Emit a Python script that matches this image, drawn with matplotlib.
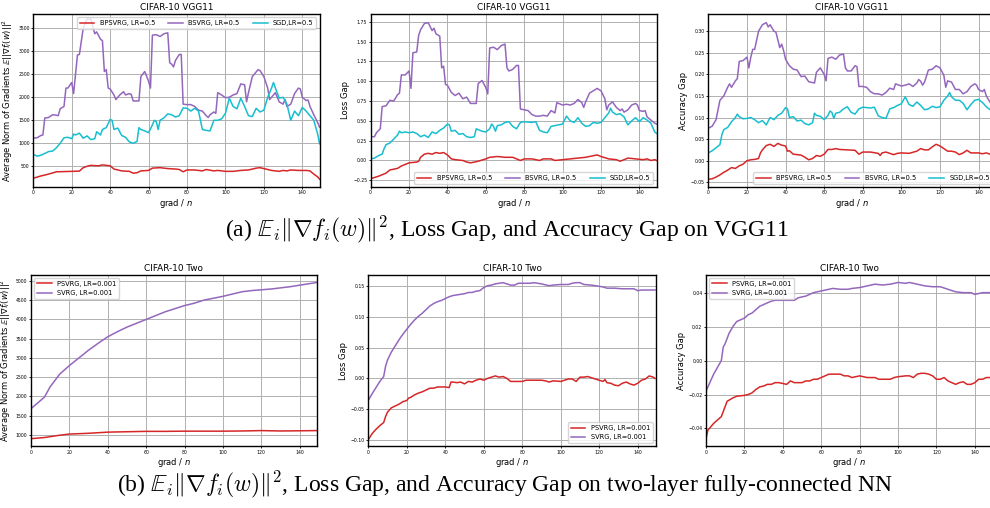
import matplotlib
matplotlib.use("Agg")
import matplotlib.pyplot as plt

RED = '#d62728'
PURPLE = '#9467bd'
CYAN = '#17becf'

# ---- (a) CIFAR-10 VGG11 ----
# gradient norm
vgg_bsvrg_gn_x = [0, 2, 4, 5, 6, 8, 10, 12, 13, 14, 16, 17, 18, 20, 21, 22, 23, 24, 26, 28,
                  30, 32, 33, 35, 36, 37, 38, 39, 40, 42, 43, 45, 47, 48, 50, 51, 52, 54, 55, 56,
                  58, 60, 61, 62, 64, 66, 68, 70, 71, 72, 73, 74, 76, 77, 78, 80, 82, 84, 86, 88,
                  90, 91, 92, 94, 95, 96, 98, 100, 102, 104, 106, 108, 110, 111, 112, 114, 115, 116, 117, 118,
                  120, 122, 123, 124, 126, 128, 130, 131, 132, 134, 136, 138, 139, 140, 142, 143, 144, 146, 148, 149]
vgg_bsvrg_gn = [1110, 1120, 1170, 1180, 1550, 1560, 1620, 1610, 1600, 1750, 1800, 2200, 2200, 2320, 2080, 2500, 2920, 2930, 3500, 3700,
                3700, 3380, 3420, 3260, 3230, 2560, 2600, 2200, 2180, 2050, 1950, 2050, 2120, 2050, 2080, 2060, 1920, 1920, 1920, 2450,
                2560, 2350, 2200, 3350, 3360, 3320, 3380, 3400, 2750, 2720, 2660, 2800, 2930, 2930, 1850, 1840, 1840, 1800, 1720, 1700,
                1600, 1560, 1620, 1680, 1650, 2100, 2050, 1990, 2000, 2050, 2080, 2290, 2270, 1900, 2100, 2450, 2500, 2550, 2600, 2580,
                2450, 2200, 1950, 2000, 2100, 1900, 1850, 1950, 1800, 1850, 2080, 2200, 2180, 2000, 1930, 1940, 1800, 1620, 1450, 1350]

vgg_sgd_gn_x = [0, 2, 4, 6, 8, 10, 12, 14, 16, 18, 20, 21, 22, 24, 26, 28, 30, 32, 33, 35, 36, 38, 40, 41, 42, 44,
                46, 48, 50, 52, 54, 55, 56, 58, 60, 62, 63, 64, 65, 66, 68, 70, 72, 74, 76, 78, 80, 82, 84, 86, 88,
                90, 92, 94, 96, 98, 100, 102, 104, 106, 108, 110, 112, 114, 116, 118, 120, 122, 124, 125, 126,
                128, 130, 132, 134, 136, 138, 140, 142, 144, 146, 148, 149]
vgg_sgd_gn = [760, 720, 740, 780, 820, 830, 900, 1000, 1120, 1130, 1100, 1200, 1180, 1220, 1110, 1160, 1080, 1100, 1250, 1180, 1300, 1340, 1520, 1500, 1300, 1330,
              1170, 1130, 1030, 1000, 1040, 1340, 1300, 1270, 1230, 1400, 1500, 1470, 1300, 1500, 1550, 1640, 1620, 1570, 1600, 1770, 1760, 1700, 1760, 1700, 1300,
              1280, 1270, 1500, 1500, 1530, 1650, 1980, 1800, 1750, 1980, 1800, 1600, 1580, 1760, 1680, 1720, 2000, 2200, 2320, 2200,
              1980, 2000, 1850, 1500, 1700, 1600, 1780, 1700, 1600, 1500, 1200, 990]

vgg_bpsvrg_gn_x = [0, 4, 8, 12, 16, 20, 24, 26, 28, 30, 34, 36, 38, 40, 42, 46, 50, 52, 54, 56, 60, 62, 66, 70, 74,
                   76, 78, 80, 84, 88, 90, 94, 96, 100, 104, 108, 112, 116, 118, 120, 124, 128, 130, 132, 134,
                   138, 142, 144, 146, 148, 149]
vgg_bpsvrg_gn = [240, 290, 330, 380, 385, 390, 395, 470, 500, 520, 510, 530, 520, 510, 440, 400, 390, 350, 360, 400, 410, 460, 470, 450, 440,
                 430, 380, 420, 420, 400, 430, 400, 410, 390, 390, 410, 420, 460, 470, 450, 410, 390, 410, 400, 420,
                 410, 410, 400, 330, 270, 220]

# loss gap
vgg_bsvrg_loss_x = [0, 2, 3, 5, 6, 8, 10, 12, 14, 15, 16, 18, 20, 21, 22, 24, 25, 26, 28, 30,
                    32, 33, 34, 36, 37, 38, 39, 40, 42, 44, 46, 48, 50, 52, 55, 56, 58, 60, 61, 62,
                    64, 66, 68, 70, 71, 72, 74, 76, 77, 78, 80, 82, 84, 86, 88, 90, 92, 94, 96, 97,
                    100, 102, 104, 106, 108, 110, 111, 112, 114, 116, 118, 120, 122, 123, 124, 126, 128, 130, 131, 132,
                    134, 136, 138, 139, 140, 142, 143, 144, 146, 148, 149]
vgg_bsvrg_loss = [0.30, 0.30, 0.35, 0.40, 0.68, 0.69, 0.76, 0.75, 0.83, 0.85, 1.08, 1.08, 1.13, 0.91, 1.36, 1.37, 1.58, 1.65, 1.73, 1.74,
                  1.64, 1.67, 1.60, 1.57, 1.17, 1.19, 0.96, 0.95, 0.86, 0.82, 0.85, 0.78, 0.80, 0.72, 0.72, 0.97, 1.01, 0.92, 0.84, 1.42,
                  1.43, 1.40, 1.45, 1.47, 1.17, 1.13, 1.15, 1.20, 1.20, 0.65, 0.64, 0.63, 0.58, 0.56, 0.56, 0.57, 0.56, 0.63, 0.60, 0.73,
                  0.70, 0.71, 0.70, 0.72, 0.77, 0.73, 0.67, 0.74, 0.85, 0.88, 0.91, 0.88, 0.78, 0.64, 0.70, 0.74, 0.67, 0.63, 0.65, 0.61,
                  0.64, 0.70, 0.72, 0.70, 0.63, 0.62, 0.63, 0.55, 0.51, 0.47, 0.46]

vgg_sgd_loss_x = [0, 2, 4, 6, 7, 8, 10, 12, 14, 15, 16, 18, 20, 22, 24, 26, 28, 30, 32, 34, 36, 38, 40, 41, 42,
                  44, 46, 48, 50, 52, 54, 55, 56, 58, 60, 62, 63, 64, 65, 66, 68, 70, 72, 74, 76, 78, 80, 84, 86, 88,
                  90, 92, 94, 96, 98, 100, 102, 104, 106, 108, 110, 112, 114, 116, 118, 120, 122, 124, 125, 126,
                  128, 130, 132, 134, 136, 138, 140, 142, 144, 146, 148, 149]
vgg_sgd_loss = [0.02, 0.03, 0.06, 0.08, 0.15, 0.20, 0.22, 0.27, 0.32, 0.37, 0.35, 0.36, 0.35, 0.36, 0.34, 0.30, 0.32, 0.29, 0.36, 0.34, 0.38, 0.41, 0.46, 0.45, 0.37,
                0.38, 0.33, 0.34, 0.30, 0.29, 0.30, 0.40, 0.39, 0.37, 0.36, 0.40, 0.46, 0.43, 0.37, 0.44, 0.45, 0.48, 0.49, 0.43, 0.40, 0.48, 0.49, 0.48, 0.49, 0.38,
                0.36, 0.35, 0.43, 0.44, 0.45, 0.46, 0.56, 0.50, 0.48, 0.54, 0.47, 0.43, 0.44, 0.48, 0.47, 0.48, 0.54, 0.60, 0.66, 0.61,
                0.58, 0.59, 0.55, 0.45, 0.50, 0.54, 0.49, 0.54, 0.51, 0.47, 0.36, 0.34]

vgg_bpsvrg_loss_x = [0, 4, 8, 10, 14, 16, 20, 24, 25, 26, 28, 30, 32, 34, 36, 38, 40, 42, 44, 48, 50, 52, 56, 60, 62,
                     66, 70, 74, 76, 78, 80, 84, 88, 90, 94, 96, 100, 104, 108, 112, 116, 118, 120, 124, 128,
                     130, 132, 134, 138, 142, 144, 146, 148, 149]
vgg_bpsvrg_loss = [-0.23, -0.20, -0.16, -0.12, -0.10, -0.07, -0.03, -0.02, -0.01, 0.04, 0.08, 0.09, 0.08, 0.10, 0.09, 0.10, 0.07, 0.02, 0.01, 0.00,
                   -0.02, -0.03, -0.01, 0.02, 0.04, 0.05, 0.04, 0.04, 0.02, 0.00, 0.02, 0.02, 0.00, 0.02, 0.02, 0.00, 0.01, 0.02, 0.03, 0.04,
                   0.06, 0.07, 0.05, 0.02, 0.01, -0.01, 0.01, 0.03, 0.02, 0.01, 0.02, 0.00, 0.01, 0.00]

# accuracy gap
vgg_bsvrg_acc_x = [0, 2, 4, 6, 8, 10, 11, 12, 14, 15, 16, 18, 20, 21, 22, 23, 24, 26, 28, 30,
                   31, 32, 34, 35, 36, 37, 38, 39, 40, 42, 44, 46, 48, 50, 52, 55, 56, 58, 60, 61,
                   62, 64, 66, 68, 70, 71, 72, 74, 76, 77, 78, 80, 82, 84, 86, 88, 90, 92, 94, 96,
                   97, 100, 102, 104, 106, 108, 109, 110, 111, 112, 114, 116, 118, 120, 122, 123, 124, 126, 128, 130,
                   132, 134, 136, 138, 139, 140, 142, 143, 144, 146, 148]
vgg_bsvrg_acc = [0.075, 0.080, 0.095, 0.140, 0.150, 0.170, 0.178, 0.170, 0.185, 0.190, 0.230, 0.232, 0.240, 0.215, 0.240, 0.258, 0.258, 0.300, 0.315, 0.320,
                 0.310, 0.315, 0.300, 0.298, 0.280, 0.262, 0.270, 0.255, 0.235, 0.220, 0.212, 0.210, 0.195, 0.196, 0.183, 0.180, 0.205, 0.215, 0.200, 0.185,
                 0.237, 0.240, 0.235, 0.245, 0.247, 0.215, 0.208, 0.208, 0.220, 0.218, 0.172, 0.172, 0.170, 0.160, 0.155, 0.155, 0.152, 0.158, 0.168, 0.165,
                 0.178, 0.173, 0.175, 0.178, 0.172, 0.180, 0.188, 0.184, 0.175, 0.182, 0.210, 0.212, 0.220, 0.215, 0.198, 0.170, 0.185, 0.182, 0.165, 0.165,
                 0.155, 0.160, 0.172, 0.178, 0.175, 0.165, 0.160, 0.165, 0.150, 0.135, 0.128]

vgg_sgd_acc_x = vgg_sgd_loss_x[:-1]
vgg_sgd_acc = [0.018, 0.023, 0.030, 0.037, 0.060, 0.072, 0.077, 0.090, 0.100, 0.108, 0.102, 0.097, 0.098, 0.100, 0.095, 0.088, 0.093, 0.083, 0.100, 0.095,
               0.105, 0.110, 0.123, 0.120, 0.100, 0.102, 0.092, 0.094, 0.086, 0.083, 0.088, 0.110, 0.105, 0.103, 0.095, 0.105, 0.115, 0.112, 0.098, 0.110,
               0.112, 0.120, 0.125, 0.112, 0.108, 0.120, 0.124, 0.122, 0.124, 0.104, 0.100, 0.098, 0.120, 0.123, 0.128, 0.132, 0.148, 0.130, 0.126, 0.136,
               0.128, 0.118, 0.120, 0.126, 0.123, 0.125, 0.140, 0.150, 0.158, 0.148, 0.140, 0.140, 0.133, 0.118, 0.130, 0.140, 0.142, 0.135, 0.125, 0.118,
               0.110]

vgg_bpsvrg_acc_x = [0, 2, 4, 6, 8, 10, 12, 14, 16, 18, 20, 22, 24, 26, 27, 28, 30, 32, 34, 36, 38, 40, 41, 42,
                    44, 46, 48, 50, 52, 54, 56, 58, 60, 62, 64, 66, 68, 72, 76, 78, 80, 84, 88, 89, 90, 92, 94, 96, 98,
                    100, 104, 108, 110, 112, 114, 116, 118, 120, 122, 124, 126, 128, 130, 132, 134, 136, 140, 142, 144, 146, 148]
vgg_bpsvrg_acc = [-0.043, -0.042, -0.038, -0.033, -0.027, -0.022, -0.016, -0.018, -0.012, -0.008, 0.000, 0.002, 0.003, 0.005, 0.018, 0.025, 0.035, 0.038, 0.033, 0.040, 0.036, 0.034, 0.022, 0.023,
                  0.015, 0.014, 0.013, 0.008, 0.002, 0.005, 0.012, 0.010, 0.015, 0.026, 0.026, 0.028, 0.026, 0.025, 0.024, 0.015, 0.020, 0.020, 0.017, 0.012, 0.018, 0.020, 0.017, 0.014, 0.017,
                  0.018, 0.017, 0.022, 0.028, 0.025, 0.025, 0.032, 0.038, 0.034, 0.028, 0.022, 0.022, 0.020, 0.014, 0.018, 0.024, 0.018, 0.018, 0.016, 0.018, 0.015, 0.014]

# ---- (b) CIFAR-10 two-layer NN ----
two_svrg_gn_x = [0, 4, 7, 10, 15, 20, 25, 30, 35, 40, 45, 50, 55, 60, 65, 70, 75, 80, 85, 90, 95, 100,
                 105, 110, 115, 120, 125, 130, 135, 140, 145, 149]
two_svrg_gn = [1680, 1850, 1980, 2250, 2580, 2800, 3000, 3200, 3380, 3550, 3680, 3800, 3900, 4000, 4100, 4200, 4280, 4360, 4420, 4500, 4550, 4600,
               4660, 4720, 4750, 4770, 4790, 4820, 4850, 4890, 4930, 4960]
two_psvrg_gn_x = [0, 7, 15, 20, 30, 40, 50, 60, 70, 80, 90, 100, 110, 120, 130, 140, 149]
two_psvrg_gn = [900, 930, 990, 1020, 1040, 1070, 1080, 1090, 1090, 1095, 1095, 1095, 1100, 1110, 1100, 1105, 1110]

two_svrg_loss_x = [0, 2, 4, 6, 8, 9, 10, 12, 14, 16, 18, 20, 22, 24, 26, 28, 30, 32, 34, 36, 38, 40, 42, 44, 46,
                   48, 50, 52, 54, 56, 58, 60, 62, 64, 66, 70, 72, 74, 76, 78, 80, 84, 86, 88, 90, 94, 96, 100, 104, 106,
                   108, 110, 112, 116, 120, 122, 124, 128, 132, 136, 138, 140, 142, 146, 149]
two_svrg_loss = [-0.036, -0.025, -0.015, -0.005, 0.003, 0.020, 0.030, 0.043, 0.053, 0.063, 0.072, 0.080, 0.088, 0.095, 0.101, 0.106, 0.112, 0.118, 0.122, 0.125, 0.127, 0.130, 0.133, 0.135, 0.136,
                 0.137, 0.138, 0.140, 0.140, 0.142, 0.143, 0.148, 0.151, 0.152, 0.154, 0.156, 0.154, 0.152, 0.152, 0.155, 0.155, 0.155, 0.156, 0.155, 0.154, 0.151, 0.152, 0.153, 0.153, 0.155,
                 0.156, 0.156, 0.153, 0.152, 0.150, 0.149, 0.147, 0.147, 0.146, 0.146, 0.146, 0.143, 0.144, 0.144, 0.144]
two_psvrg_loss_x = [0, 2, 4, 6, 8, 9, 10, 12, 14, 16, 18, 20, 21, 22, 24, 26, 28, 30, 32, 34, 36, 40, 42, 43, 44,
                    46, 48, 50, 52, 54, 56, 58, 60, 62, 64, 66, 68, 70, 72, 74, 76, 80, 82, 84, 88, 90, 92, 94, 96, 100,
                    104, 106, 108, 110, 112, 114, 116, 118, 120, 122, 123, 124, 126, 128, 130, 132, 134, 136, 138, 140,
                    142, 144, 146, 148, 149]
two_psvrg_loss = [-0.100, -0.090, -0.083, -0.077, -0.072, -0.062, -0.055, -0.048, -0.045, -0.042, -0.038, -0.036, -0.032, -0.031, -0.027, -0.024, -0.022, -0.019, -0.016, -0.016, -0.014, -0.014, -0.015, -0.006, -0.006,
                  -0.007, -0.006, -0.009, -0.005, -0.006, -0.003, -0.001, -0.003, 0.000, 0.002, 0.004, 0.002, 0.003, 0.000, -0.005, -0.005, -0.005, -0.003, -0.003, -0.003, -0.003, -0.004, -0.006, -0.004, -0.005,
                  -0.001, -0.001, -0.005, 0.002, 0.002, 0.003, 0.001, -0.001, -0.003, -0.005, -0.002, -0.007, -0.008, -0.011, -0.012, -0.008, -0.006, -0.009, -0.011, -0.008,
                  -0.003, -0.001, 0.004, 0.002, 0.000]

two_svrg_acc_x = [0, 2, 4, 6, 8, 9, 10, 12, 14, 16, 18, 20, 22, 24, 26, 28, 30, 32, 34, 36, 40, 44, 46, 48, 52,
                  56, 60, 62, 66, 70, 74, 76, 80, 84, 88, 92, 96, 100, 104, 106, 110, 114, 118, 122, 126, 130, 134, 138, 140, 144, 148]
two_svrg_acc = [-0.018, -0.013, -0.008, -0.004, 0.000, 0.008, 0.010, 0.016, 0.020, 0.023, 0.024, 0.025, 0.027, 0.028, 0.030, 0.032, 0.033, 0.034, 0.035, 0.0355, 0.0355, 0.0355, 0.0355, 0.037, 0.038,
                0.040, 0.041, 0.0415, 0.0425, 0.042, 0.042, 0.0425, 0.043, 0.044, 0.045, 0.0445, 0.045, 0.046, 0.0455, 0.046, 0.045, 0.044, 0.0435, 0.0435, 0.042, 0.0405, 0.040, 0.040, 0.039, 0.040, 0.040]
two_psvrg_acc_x = [0, 1, 4, 6, 8, 10, 11, 14, 16, 20, 22, 24, 26, 28, 30, 32, 34, 36, 38, 40, 42, 44, 46, 48, 50,
                   52, 54, 56, 58, 60, 62, 64, 66, 70, 72, 74, 76, 80, 84, 88, 90, 94, 96, 98, 100, 104, 106, 108, 110, 112,
                   114, 116, 118, 120, 122, 124, 126, 128, 130, 132, 134, 136, 138, 140, 142, 144, 146, 148]
two_psvrg_acc = [-0.046, -0.041, -0.037, -0.035, -0.033, -0.027, -0.024, -0.022, -0.021, -0.0205, -0.020, -0.019, -0.017, -0.0155, -0.015, -0.014, -0.014, -0.013, -0.013, -0.0135, -0.014, -0.012, -0.013, -0.013, -0.013,
                 -0.012, -0.012, -0.011, -0.011, -0.010, -0.009, -0.008, -0.008, -0.008, -0.009, -0.009, -0.010, -0.009, -0.010, -0.010, -0.011, -0.011, -0.011, -0.010, -0.0095, -0.009, -0.009, -0.010, -0.008, -0.0075,
                 -0.0075, -0.008, -0.009, -0.011, -0.011, -0.010, -0.012, -0.013, -0.014, -0.013, -0.0125, -0.014, -0.014, -0.013, -0.011, -0.011, -0.010, -0.010]

gn_label = r'Average Norm of Gradients $\mathbb{E}||\nabla f_i(w)||^2$'

plt.rcParams['font.family'] = 'DejaVu Sans'
plt.rcParams['axes.linewidth'] = 1.0
plt.rcParams['xtick.major.size'] = 1.5
plt.rcParams['ytick.major.size'] = 1.5
plt.rcParams['xtick.major.width'] = 0.6
plt.rcParams['ytick.major.width'] = 0.6

fig = plt.figure(figsize=(9.9, 5.08), dpi=100)


def panel(rect, title, series, ylabel, ylim, loc, ncol, xmax=149):
    ax = fig.add_axes(rect)
    for xs, ys, color, label in series:
        ax.plot(xs, ys, color=color, lw=1.1, label=label)
    ax.set_xlim(0, xmax)
    ax.set_ylim(*ylim)
    ax.set_xticks([0, 20, 40, 60, 80, 100, 120, 140])
    ax.grid(True, color='#b0b0b0', linewidth=0.7)
    ax.set_axisbelow(True)
    ax.tick_params(labelsize=3.3, pad=1.0)
    ax.set_title(title, fontsize=6.4, pad=2.5)
    ax.set_xlabel(r'grad / $n$', fontsize=6.0, labelpad=1)
    ax.set_ylabel(ylabel, fontsize=6.0, labelpad=2)
    ax.legend(loc=loc, ncol=ncol, fontsize=4.8, handlelength=2.2,
              borderpad=0.4, columnspacing=2.0, handletextpad=0.8)
    return ax


top_b, top_h = 0.6319, 0.3406
bot_b, bot_h = 0.1211, 0.3382
t = 'CIFAR-10 VGG11'
panel([0.0336, top_b, 0.2892, top_h], t,
      [(vgg_bpsvrg_gn_x, vgg_bpsvrg_gn, RED, 'BPSVRG, LR=0.5'),
       (vgg_bsvrg_gn_x, vgg_bsvrg_gn, PURPLE, 'BSVRG, LR=0.5'),
       (vgg_sgd_gn_x, vgg_sgd_gn, CYAN, 'SGD,LR=0.5')],
      gn_label, (50, 3810), 'upper right', 3)
panel([0.3744, top_b, 0.2889, top_h], t,
      [(vgg_bpsvrg_loss_x, vgg_bpsvrg_loss, RED, 'BPSVRG, LR=0.5'),
       (vgg_bsvrg_loss_x, vgg_bsvrg_loss, PURPLE, 'BSVRG, LR=0.5'),
       (vgg_sgd_loss_x, vgg_sgd_loss, CYAN, 'SGD,LR=0.5')],
      'Loss Gap', (-0.335, 1.85), 'lower right', 3)
panel([0.7155, top_b, 0.2905, top_h], t,
      [(vgg_bpsvrg_acc_x, vgg_bpsvrg_acc, RED, 'BPSVRG, LR=0.5'),
       (vgg_bsvrg_acc_x, vgg_bsvrg_acc, PURPLE, 'BSVRG, LR=0.5'),
       (vgg_sgd_acc_x, vgg_sgd_acc, CYAN, 'SGD,LR=0.5')],
      'Accuracy Gap', (-0.061, 0.340), 'lower right', 3)

t = 'CIFAR-10 Two'
panel([0.0313, bot_b, 0.2889, bot_h], t,
      [(two_psvrg_gn_x, two_psvrg_gn, RED, 'PSVRG, LR=0.001'),
       (two_svrg_gn_x, two_svrg_gn, PURPLE, 'SVRG, LR=0.001')],
      gn_label, (697, 5163), 'upper left', 1)
panel([0.3720, bot_b, 0.2906, bot_h], t,
      [(two_psvrg_loss_x, two_psvrg_loss, RED, 'PSVRG, LR=0.001'),
       (two_svrg_loss_x, two_svrg_loss, PURPLE, 'SVRG, LR=0.001')],
      'Loss Gap', (-0.111, 0.169), 'lower right', 1, xmax=149.5)
panel([0.7131, bot_b, 0.2900, bot_h], t,
      [(two_psvrg_acc_x, two_psvrg_acc, RED, 'PSVRG, LR=0.001'),
       (two_svrg_acc_x, two_svrg_acc, PURPLE, 'SVRG, LR=0.001')],
      'Accuracy Gap', (-0.0506, 0.0506), 'upper left', 1, xmax=149.5)

fig.text(0.512, 0.548, r'(a) $\mathbb{E}_i\|\nabla f_i(w)\|^2$, Loss Gap, and Accuracy Gap on VGG11',
         ha='center', va='center', fontsize=17, family='Liberation Serif', math_fontfamily='cm')
fig.text(0.510, 0.047, r'(b) $\mathbb{E}_i\|\nabla f_i(w)\|^2$, Loss Gap, and Accuracy Gap on two-layer fully-connected NN',
         ha='center', va='center', fontsize=17, family='Liberation Serif', math_fontfamily='cm')

fig.savefig('out.png', dpi=100)
